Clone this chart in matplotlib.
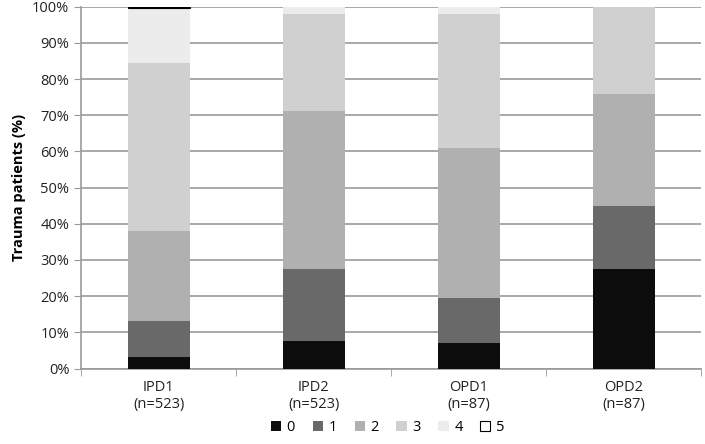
import numpy as np
import matplotlib.pyplot as plt
from matplotlib.ticker import PercentFormatter

plt.rcParams['font.family'] = ['Open Sans', 'DejaVu Sans']

groups = ['IPD1\n(n=523)', 'IPD2\n(n=523)', 'OPD1\n(n=87)', 'OPD2\n(n=87)']
levels = ['0', '1', '2', '3', '4', '5']
s0 = [3.3, 7.6, 7.0, 27.6]
s1 = [9.8, 20.0, 12.5, 17.2]
s2 = [24.9, 43.6, 41.5, 31.0]
s3 = [46.5, 26.8, 37.0, 24.2]
s4 = [15.0, 2.0, 2.0, 0.0]
s5 = [0.5, 0.0, 0.0, 0.0]
series = [s0, s1, s2, s3, s4, s5]
colors = ['#0d0d0d', '#696969', '#b0b0b0', '#d0d0d0', '#ececec', '#ffffff']

fig = plt.figure(figsize=(7.05, 4.44), dpi=100)
ax = fig.add_axes([0.115, 0.17, 0.88, 0.815])

x = np.arange(len(groups))
bottom = np.zeros(len(groups))
for i, vals in enumerate(series):
    vals = np.array(vals)
    if levels[i] == '5':
        lw = [0.8 if v > 0 else 0 for v in vals]
        ax.bar(x, vals, 0.4, bottom=bottom, color=colors[i], edgecolor='black',
               linewidth=lw, label=levels[i], zorder=3)
    else:
        ax.bar(x, vals, 0.4, bottom=bottom, color=colors[i], label=levels[i], zorder=3)
    bottom += vals

ax.set_xlim(-0.5, len(groups) - 0.5)
ax.set_ylim(0, 100)
ax.set_yticks(np.arange(0, 101, 10))
ax.yaxis.set_major_formatter(PercentFormatter(decimals=0))
ax.yaxis.grid(True, color='#999999', linewidth=1.2, zorder=0)
ax.set_xticks(x)
ax.set_xticklabels(groups, fontsize=10.5, color='#222222')
ax.set_xticks(np.arange(-0.5, len(groups)), minor=True)
ax.tick_params(axis='x', which='major', length=0, pad=8)
ax.tick_params(axis='x', which='minor', length=5, color='#999999', direction='out')
ax.tick_params(axis='y', length=5, color='#999999', labelsize=10.5, labelcolor='#222222')
for s in ['top', 'right']:
    ax.spines[s].set_visible(False)
for s in ['left', 'bottom']:
    ax.spines[s].set_color('#999999')
    ax.spines[s].set_linewidth(1.2)
ax.set_ylabel('Trauma patients (%)', fontsize=10.5, fontweight='bold', labelpad=4)

handles, labels = ax.get_legend_handles_labels()
leg = fig.legend(handles, labels, loc='lower center', bbox_to_anchor=(0.55, -0.01), ncol=6,
                 frameon=False, fontsize=10.5, handlelength=0.7, handleheight=0.7,
                 handletextpad=0.4, columnspacing=1.2)
leg.legend_handles[5].set_linewidth(0.8)

fig.savefig('out.png', dpi=100)
